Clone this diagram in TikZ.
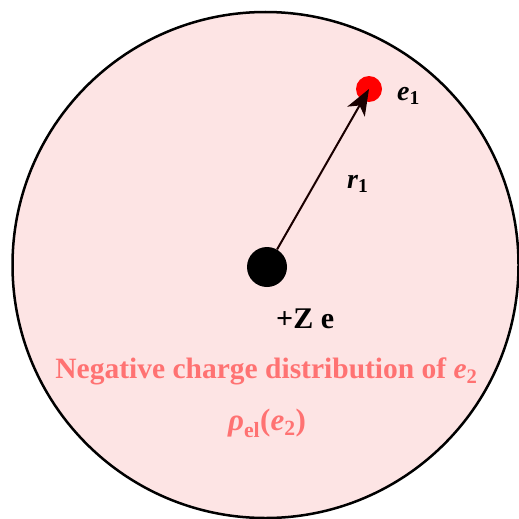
\documentclass[tikz,border=0pt]{standalone}
\usepackage{amsmath}
\usepackage{fontspec}
\setmainfont{Liberation Serif}
\usetikzlibrary{arrows.meta}
\definecolor{bgpink}{RGB}{253,228,228}
\definecolor{txtpink}{RGB}{255,114,114}
\definecolor{arrowdark}{RGB}{26,0,0}
\newcommand{\mylblfont}{\fontsize{28pt}{32pt}\selectfont\bfseries}
\newcommand{\mybigfont}{\fontsize{30pt}{34pt}\selectfont\bfseries}
\newcommand{\mypinkfont}{\fontsize{29.5pt}{33pt}\selectfont\bfseries}
\newcommand{\myrhofont}{\fontsize{31pt}{35pt}\selectfont\bfseries}
\tikzset{
  lblstyle/.style={inner sep=0pt, font=\mylblfont},
  pinkstyle/.style={inner sep=0pt, text=txtpink, font=\mypinkfont},
  vecstyle/.style={draw=arrowdark, line width=2pt, -{Stealth[length=26pt,width=20pt,inset=7pt]}}
}
\begin{document}
\begin{tikzpicture}[x=1pt,y=-1pt]
\useasboundingbox (0,0) rectangle (519,519);
\clip (0,0) rectangle (519,519);
\node[circle, draw=black, line width=2.5pt, fill=bgpink, minimum size=506pt, inner sep=0pt] (cloud) at (265.5,265) {};
\node[circle, fill=black, minimum size=40pt, inner sep=0pt] (nuc) at (267,267) {};
\node[circle, fill=red, minimum size=26pt, inner sep=0pt] (elec) at (369,89) {};
\draw[vecstyle] (nuc) -- (elec.center);
\node[lblstyle, anchor=base west] (elabel) at (397,100) {$\textit{e}_{\text{1}}$};
\node[lblstyle, anchor=base west] (rlabel) at (347,188) {$\textit{r}_{\text{1}}$};
\node[lblstyle, font=\mybigfont, anchor=base west] (zlabel) at (276,328) {+Z e};
\node[pinkstyle, anchor=base] (neglabel) at (266.5,378) {Negative charge distribution of $\textit{e}_{\text{2}}$};
\node[pinkstyle, font=\myrhofont, anchor=base] (rholabel) at (267,430) {$\textit{ρ}_{\text{el}}\text{(}\textit{e}_{\text{2}}\text{)}$};
\end{tikzpicture}
\end{document}
